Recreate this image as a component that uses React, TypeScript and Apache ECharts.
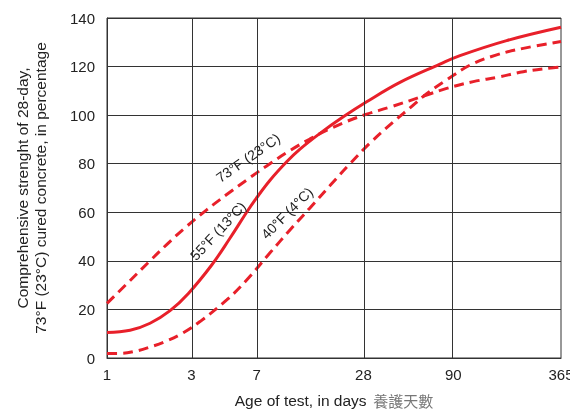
import React, { useEffect, useRef } from "react";
import * as echarts from "echarts";

// X axis tick labels (days) and vertical grid lines
const tickDays = [1, 3, 7, 28, 90, 365];
const gridDays = [3, 7, 28, 90];

// 55°F (13°C) – solid curve
const days55 = [1, 1.35, 1.75, 2.27, 2.88, 3.9, 4.94, 6.14, 6.84, 8.32, 10.33, 12.28, 15.92, 21.56, 29.2, 45, 75.7, 98.2, 180, 365];
const pct55 = [10.5, 11.4, 14.3, 19.5, 26.6, 38.3, 49.3, 60, 65, 73.2, 80.8, 86, 92.5, 99.3, 105.5, 113.5, 121, 124.5, 130.7, 136.2];

// 73°F (23°C) – dashed curve
const days73 = [1, 1.292, 1.748, 2.172, 2.696, 3.652, 4.738, 6.143, 7.965, 10.78, 13.98, 18.14, 22.53, 29.2, 39.54, 63.7, 82.6, 116.8, 165.1, 223.6, 330, 365];
const pct73 = [22.5, 30.5, 40, 46.7, 53, 61, 67.3, 73.3, 79.1, 85.4, 90.2, 94.4, 97.4, 100.4, 103.3, 108.3, 111, 113.8, 115.8, 117.9, 119.5, 119.8];

// 40°F (4°C) – dashed curve
const days40 = [1, 1.184, 1.407, 1.748, 2.172, 2.696, 3.348, 4.738, 6.143, 8.316, 10.78, 13.98, 18.14, 23.51, 30.5, 41.3, 51.3, 63.7, 82.6, 111.8, 158.2, 223.6, 365];
const pct40 = [1.9, 1.9, 2.6, 4.5, 7, 10.4, 15, 23.9, 32.1, 43.3, 52.7, 61.8, 71, 80, 88.5, 97.2, 103, 108.8, 114.5, 120.6, 124.8, 127.5, 130.3];

// Curve annotations
const curveLabelTexts = ["73°F (23°C)", "55°F (13°C)", "40°F (4°C)"];
const curveLabelDays = [6.25, 4.23, 10.37];
const curveLabelPcts = [82.4, 52.3, 59.7];
const curveLabelAngles = [35, 47, 45];

const RED = "#e8202a";
const FONT = "'Liberation Sans', Arial, sans-serif";

const lg = (d: number) => Math.log10(d);
const pairs = (ds: number[], vs: number[]) => ds.map((d, i) => [lg(d), vs[i]]);

export default function App() {
  const ref = useRef<HTMLDivElement>(null);
  useEffect(() => {
    if (!ref.current) return;
    const chart = echarts.init(ref.current, undefined, { renderer: "svg" });
    const curveBase = {
      type: "line",
      smooth: 0.4,
      symbol: "none",
      z: 3,
      silent: true,
    };
    chart.setOption({
      animation: false,
      textStyle: { fontFamily: FONT },
      grid: {
        left: 107,
        right: 9,
        top: 18,
        bottom: 57,
        show: true,
        borderColor: "#333",
        borderWidth: 1,
        containLabel: false,
        outerBoundsMode: "none",
      },
      xAxis: {
        type: "value",
        min: 0,
        max: lg(365),
        axisLine: { show: true, lineStyle: { color: "#333", width: 1 } },
        axisTick: { show: false },
        splitLine: { show: false },
        axisLabel: {
          customValues: tickDays.map(lg),
          formatter: (v: number) => String(Math.round(Math.pow(10, v))),
          color: "#222",
          fontSize: 15,
          margin: 9,
          fontFamily: FONT,
        },
        name: "{a|Age of test, in days}  {b|養護天數}",
        nameLocation: "middle",
        nameGap: 34,
        nameTextStyle: {
          rich: {
            a: { fontSize: 15.5, color: "#222", fontFamily: FONT },
            b: { fontSize: 15, color: "#777", fontFamily: "'Noto Sans CJK TC', sans-serif" },
          },
        },
      },
      yAxis: {
        type: "value",
        min: 0,
        max: 140,
        interval: 20,
        axisLine: { show: true, lineStyle: { color: "#333", width: 1 } },
        axisTick: { show: false },
        splitLine: { show: true, lineStyle: { color: "#333", width: 1 } },
        axisLabel: { color: "#222", fontSize: 15, margin: 12, fontFamily: FONT },
        name: "Comprehensive strenght of 28-day,\n73°F (23°C) cured concrete, in percentage",
        nameLocation: "middle",
        nameRotate: 90,
        nameGap: 58,
        nameTextStyle: { fontSize: 15.5, lineHeight: 18, color: "#222", fontFamily: FONT },
      },
      series: [
        {
          type: "line",
          data: [],
          z: 1,
          silent: true,
          markLine: {
            silent: true,
            symbol: "none",
            label: { show: false },
            lineStyle: { color: "#333", width: 1, type: "solid" },
            data: gridDays.map((d) => ({ xAxis: lg(d) })),
          },
          markPoint: {
            silent: true,
            symbol: "circle",
            symbolSize: 1,
            itemStyle: { color: "rgba(0,0,0,0)" },
            label: { show: true, position: "inside", color: "#222", fontSize: 14, fontFamily: FONT },
            data: curveLabelTexts.map((t, i) => ({
              coord: [lg(curveLabelDays[i]), curveLabelPcts[i]],
              label: { formatter: t, rotate: curveLabelAngles[i] },
            })),
          },
        },
        {
          ...curveBase,
          name: "55°F (13°C)",
          data: pairs(days55, pct55),
          lineStyle: { color: RED, width: 3, type: "solid" },
        },
        {
          ...curveBase,
          name: "73°F (23°C)",
          data: pairs(days73, pct73),
          lineStyle: { color: RED, width: 3, type: [10, 6] },
        },
        {
          ...curveBase,
          name: "40°F (4°C)",
          data: pairs(days40, pct40),
          lineStyle: { color: RED, width: 3, type: [10, 6] },
        },
      ],
    });
    return () => chart.dispose();
  }, []);
  return (
    <div
      ref={ref}
      style={{ position: "fixed", left: 0, top: 0, width: 570, height: 415 }}
    />
  );
}
